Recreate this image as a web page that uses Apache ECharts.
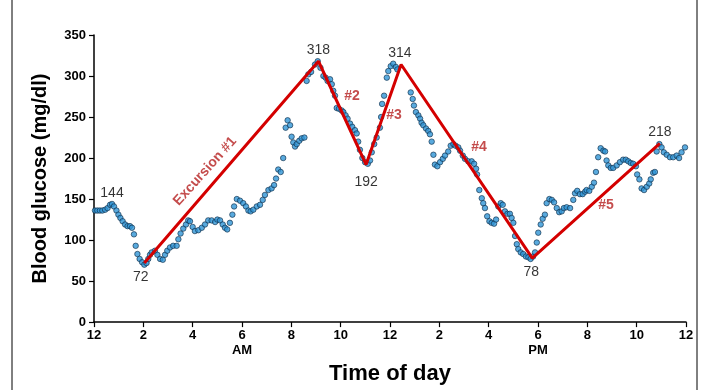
<!DOCTYPE html>
<html>
<head>
<meta charset="utf-8">
<script src="https://cdn.jsdelivr.net/npm/echarts@6/dist/echarts.min.js"></script>
<style>
  html, body { margin: 0; padding: 0; background: #fff; }
  #chart { width: 710px; height: 390px; }
</style>
</head>
<body>
<div id="chart"></div>
<script>
// glucose readings: hours since midnight, mg/dl
const readingHours = [
  0.04, 0.14, 0.24, 0.34, 0.45, 0.55, 0.65, 0.73, 0.81, 0.91, 0.99, 1.07, 1.16, 1.26, 1.36, 1.46,
  1.54, 1.62, 1.69, 1.76, 1.85, 1.95, 2.04, 2.13, 2.20, 2.27, 2.34, 2.47, 2.57, 2.68, 2.79, 2.88,
  2.97, 3.08, 3.21, 3.35, 3.42, 3.51, 3.62, 3.73, 3.82, 3.89, 4.00, 4.09, 4.23, 4.37, 4.50, 4.63,
  4.77, 4.91, 5.00, 5.11, 5.22, 5.31, 5.40, 5.51, 5.61, 5.68, 5.79, 5.92, 6.05, 6.16, 6.26, 6.35,
  6.46, 6.60, 6.73, 6.84, 6.93, 7.07, 7.20, 7.30, 7.38, 7.47, 7.57, 7.67, 7.77, 7.85, 7.95, 8.01,
  8.08, 8.15, 8.22, 8.32, 8.42, 8.53, 8.62, 8.69, 8.80, 8.96, 9.07, 9.18, 9.30, 9.39, 9.47, 9.57,
  9.64, 9.70, 9.77, 9.84, 9.93, 10.04, 10.11, 10.20, 10.28, 10.38, 10.47, 10.58, 10.65, 10.71, 10.78, 10.88,
  10.99, 11.10, 11.19, 11.26, 11.36, 11.46, 11.59, 11.64, 11.68, 11.76, 11.87, 11.93, 12.03, 12.13, 12.24, 12.30,
  12.84, 12.92, 12.97, 13.05, 13.15, 13.22, 13.28, 13.35, 13.46, 13.55, 13.62, 13.69, 13.76, 13.82, 13.92, 14.03,
  14.14, 14.23, 14.36, 14.46, 14.57, 14.66, 14.77, 14.84, 14.95, 15.04, 15.17, 15.31, 15.41, 15.49, 15.53, 15.62,
  15.72, 15.78, 15.85, 15.94, 16.03, 16.12, 16.22, 16.30, 16.39, 16.49, 16.57, 16.66, 16.76, 16.86, 16.93, 17.00,
  17.07, 17.14, 17.20, 17.30, 17.40, 17.51, 17.61, 17.70, 17.80, 17.88, 17.95, 18.01, 18.11, 18.19, 18.28, 18.35,
  18.46, 18.56, 18.65, 18.76, 18.86, 18.96, 19.05, 19.16, 19.30, 19.43, 19.50, 19.59, 19.70, 19.81, 19.91, 19.97,
  20.08, 20.18, 20.27, 20.35, 20.44, 20.54, 20.65, 20.72, 20.78, 20.85, 20.95, 21.05, 21.19, 21.32, 21.45, 21.56,
  21.66, 21.76, 21.86, 21.97, 22.02, 22.11, 22.20, 22.30, 22.41, 22.51, 22.57, 22.67, 22.74, 22.81, 22.92, 23.01,
  23.10, 23.22, 23.35, 23.48, 23.62, 23.72, 23.82, 23.96
]
const readingValues = [
  136, 136, 136, 136, 137, 139, 143, 144, 141, 136, 131, 127, 123, 119, 117, 117,
  115, 107, 93, 83, 77, 73, 70, 72, 77, 82, 85, 87, 82, 77, 76, 82,
  87, 91, 93, 93, 101, 108, 114, 119, 124, 123, 116, 111, 112, 115, 119, 124,
  124, 122, 125, 124, 119, 115, 113, 121, 131, 141, 150, 148, 145, 141, 136, 135,
  137, 141, 143, 149, 155, 161, 163, 167, 175, 186, 183, 200, 237, 246, 240, 226,
  219, 214, 217, 221, 224, 225, 294, 302, 305, 314, 318, 310, 300, 298, 294, 296,
  290, 282, 276, 261, 260, 258, 256, 252, 248, 242, 238, 234, 230, 220, 210, 200,
  195, 193, 197, 207, 217, 225, 237, 250, 266, 276, 298, 306, 312, 315, 311, 308,
  280, 272, 264, 256, 252, 248, 243, 240, 236, 233, 229, 220, 204, 192, 190, 195,
  199, 203, 208, 215, 217, 215, 213, 209, 203, 199, 196, 196, 193, 187, 180, 161,
  151, 145, 139, 129, 123, 121, 120, 125, 141, 145, 143, 135, 132, 132, 127, 121,
  105, 95, 89, 85, 83, 80, 79, 77, 80, 85, 97, 109, 119, 126, 131, 145,
  150, 149, 146, 139, 134, 135, 139, 140, 139, 149, 157, 160, 156, 156, 159, 161,
  160, 165, 170, 183, 201, 212, 209, 208, 197, 191, 188, 188, 191, 195, 198, 198,
  196, 194, 193, 190, 180, 174, 163, 161, 165, 169, 174, 182, 183, 208, 217, 213,
  207, 204, 201, 201, 203, 200, 207, 213
]

// excursion line vertices
const excursionHours = [2.04, 9.10, 11.03, 12.45, 17.77, 22.94]
const excursionValues = [72, 318, 192, 314, 78, 218]

// black value labels: [hour, value, text]
const valueLabels = [
  [0.73, 144, '144'],
  [1.90, 72, '72'],
  [9.10, 318, '318'],
  [11.03, 192, '192'],
  [12.40, 314, '314'],
  [17.73, 78, '78'],
  [22.94, 218, '218']
]
const labelsBelow = ['72', '192', '78']

// red excursion names: [hour, value, text]
const excursionNames = [
  [4.50, 184, 'Excursion #1'],
  [10.46, 276, '#2'],
  [12.16, 252, '#3'],
  [15.61, 213, '#4'],
  [20.76, 142, '#5']
]

const xTicks = [0, 2, 4, 6, 8, 10, 12, 14, 16, 18, 20, 22, 24]
const tickNames = ['12', '2', '4', '6', '8', '10', '12', '2', '4', '6', '8', '10', '12']

const FONT = "'Liberation Sans', Arial, sans-serif"

const chart = echarts.init(document.getElementById('chart'))

chart.setOption({
  animation: false,
  backgroundColor: '#fff',
  grid: { left: 94, right: 24, top: 35, bottom: 62 },
  graphic: [
    {
      type: 'rect',
      shape: { x: 12, y: -2, width: 685, height: 394 },
      style: { fill: 'none', stroke: '#000', lineWidth: 1 },
      silent: true
    }
  ],
  xAxis: {
    type: 'value',
    min: 0,
    max: 24,
    interval: 2,
    name: 'Time of day',
    nameLocation: 'middle',
    nameGap: 32,
    nameTextStyle: { fontFamily: FONT, fontWeight: 'bold', fontSize: 22, color: '#000' },
    axisLine: { lineStyle: { color: '#000', width: 1.5 } },
    axisTick: { show: true, length: 5, lineStyle: { color: '#000', width: 1.2 } },
    splitLine: { show: false },
    axisLabel: {
      margin: 6,
      color: '#000',
      fontFamily: FONT,
      fontWeight: 'bold',
      fontSize: 13,
      lineHeight: 15,
      formatter: v => {
        const name = tickNames[xTicks.indexOf(v)]
        if (v === 6) return name + '\nAM'
        if (v === 18) return name + '\nPM'
        return name
      }
    }
  },
  yAxis: {
    type: 'value',
    min: 0,
    max: 350,
    interval: 50,
    name: 'Blood glucose (mg/dl)',
    nameLocation: 'middle',
    nameGap: 44,
    nameTextStyle: { fontFamily: FONT, fontWeight: 'bold', fontSize: 20, color: '#000' },
    axisLine: { show: true, lineStyle: { color: '#000', width: 1.5 } },
    axisTick: { show: true, length: 5, lineStyle: { color: '#000', width: 1.2 } },
    splitLine: { show: false },
    axisLabel: {
      margin: 8,
      color: '#000',
      fontFamily: FONT,
      fontWeight: 'bold',
      fontSize: 13
    }
  },
  series: [
    {
      name: 'readings',
      type: 'scatter',
      symbol: 'circle',
      symbolSize: 5.5,
      itemStyle: { color: '#2f95d6', borderColor: '#0d2a45', borderWidth: 0.8 },
      data: readingHours.map((h, i) => [h, readingValues[i]]),
      z: 2
    },
    {
      name: 'excursions',
      type: 'line',
      showSymbol: false,
      lineStyle: { color: '#d40000', width: 3 },
      data: excursionHours.map((h, i) => [h, excursionValues[i]]),
      z: 3
    },
    {
      name: 'value labels',
      type: 'scatter',
      symbolSize: 0,
      silent: true,
      data: valueLabels.map(d => ({
        value: d,
        label: labelsBelow.includes(d[2])
          ? { position: 'bottom', distance: d[2] === '192' ? 11 : 7 }
          : { position: 'top', distance: 4 }
      })),
      label: {
        show: true,
        formatter: p => p.value[2],
        color: '#000',
        fontFamily: FONT,
        fontSize: 14
      },
      z: 4
    },
    {
      name: 'excursion names',
      type: 'scatter',
      symbolSize: 0,
      silent: true,
      data: excursionNames.map((d, i) => ({
        value: d,
        label: i === 0 ? { rotate: 48 } : {}
      })),
      label: {
        show: true,
        formatter: p => p.value[2],
        position: 'inside',
        color: '#b51f1f',
        fontFamily: FONT,
        fontWeight: 'bold',
        fontSize: 14
      },
      z: 4
    }
  ]
})
</script>
</body>
</html>
